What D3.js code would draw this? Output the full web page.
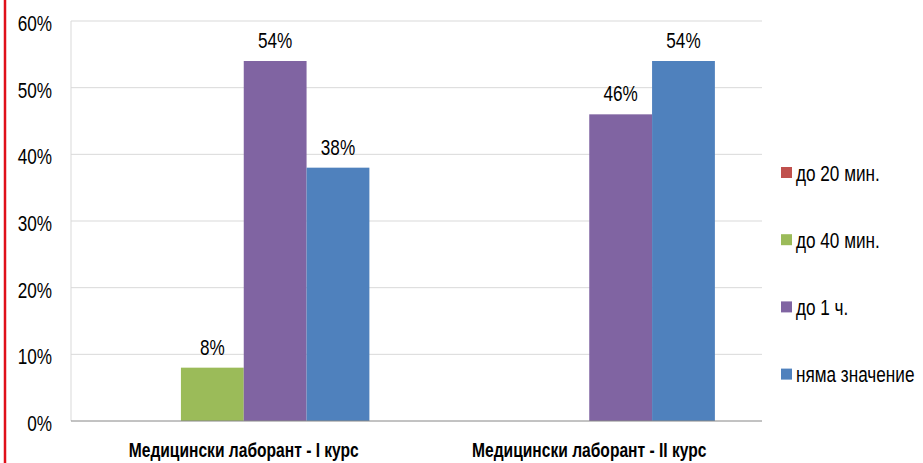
<!DOCTYPE html>
<html>
<head>
<meta charset="utf-8">
<script src="https://cdn.jsdelivr.net/npm/d3@7"></script>
<style>
  body { margin: 0; background: #fff; }
  svg { display: block; }
  text { font-family: "Liberation Sans Narrow", "Arial Narrow", "Liberation Sans", Arial, sans-serif; fill: #000; }
</style>
</head>
<body>
<div id="chart"></div>
<script>
// chart data
var categories = ["Медицински лаборант - I курс", "Медицински лаборант - II курс"];
var seriesNames = ["до 20 мин.", "до 40 мин.", "до 1 ч.", "няма значение"];
var seriesColors = ["#C0504D", "#9BBB59", "#8064A2", "#4F81BD"];
// values[series][category], in percent
var values = [
    [0, 0],
    [8, 0],
    [54, 46],
    [38, 54]
];
var yTicks = [0, 10, 20, 30, 40, 50, 60];

var width = 923,
    height = 463,
    margin = {top: 21, right: 161, bottom: 42, left: 71},
    narrow = 0.78; // squeeze text horizontally, no narrow font installed

var svg = d3.select("#chart").append("svg")
    .attr("width", width)
    .attr("height", height);

function place(x, y) {
    return "translate(" + x + "," + y + ") scale(" + narrow + ",1)";
}

// red frame line on the left edge
svg.append("line")
    .attr("x1", 5).attr("x2", 5)
    .attr("y1", 0).attr("y2", height)
    .attr("stroke", "#e0101a")
    .attr("stroke-width", 2.5);

var x0 = d3.scaleBand()
    .domain(categories)
    .range([margin.left, width - margin.right]);

var x1 = d3.scaleBand()
    .domain(d3.range(seriesNames.length))
    .range([0, x0.bandwidth()])
    .paddingOuter(0.75)
    .paddingInner(0);

var y = d3.scaleLinear()
    .domain([0, 60])
    .range([height - margin.bottom, margin.top]);

// gridlines
svg.append("g")
    .selectAll("line")
    .data(yTicks.filter(function (d) { return d > 0; }))
    .enter().append("line")
    .attr("x1", margin.left)
    .attr("x2", width - margin.right)
    .attr("y1", function (d) { return y(d); })
    .attr("y2", function (d) { return y(d); })
    .attr("stroke", "#d9d9d9");

// left axis line
svg.append("line")
    .attr("x1", margin.left).attr("x2", margin.left)
    .attr("y1", y(60)).attr("y2", y(0))
    .attr("stroke", "#d9d9d9");

// y tick labels
svg.append("g")
    .selectAll("text")
    .data(yTicks)
    .enter().append("text")
    .attr("transform", function (d) { return place(52, y(d)); })
    .attr("dy", "0.45em")
    .attr("text-anchor", "end")
    .style("font-size", "22px")
    .text(function (d) { return d + "%"; });

// bars
var groups = svg.append("g")
    .selectAll("g")
    .data(categories)
    .enter().append("g")
    .attr("transform", function (d) { return "translate(" + x0(d) + ",0)"; });

groups.selectAll("rect")
    .data(function (d, ci) {
        return seriesNames.map(function (s, si) { return {si: si, v: values[si][ci]}; });
    })
    .enter().append("rect")
    .attr("x", function (d) { return x1(d.si); })
    .attr("width", x1.bandwidth())
    .attr("y", function (d) { return y(d.v); })
    .attr("height", function (d) { return y(0) - y(d.v); })
    .attr("fill", function (d) { return seriesColors[d.si]; });

// value labels
groups.selectAll("text")
    .data(function (d, ci) {
        return seriesNames.map(function (s, si) { return {si: si, v: values[si][ci]}; })
            .filter(function (d) { return d.v > 0; });
    })
    .enter().append("text")
    .attr("transform", function (d) { return place(x1(d.si) + x1.bandwidth() / 2, y(d.v) - 13); })
    .attr("text-anchor", "middle")
    .style("font-size", "22px")
    .text(function (d) { return d.v + "%"; });

// bottom axis line
svg.append("line")
    .attr("x1", margin.left).attr("x2", width - margin.right)
    .attr("y1", y(0)).attr("y2", y(0))
    .attr("stroke", "#868686");

// category labels
svg.append("g")
    .selectAll("text")
    .data(categories)
    .enter().append("text")
    .attr("transform", function (d) { return place(x0(d) + x0.bandwidth() / 2, 457); })
    .attr("text-anchor", "middle")
    .style("font-size", "20px")
    .style("font-weight", "bold")
    .text(function (d) { return d; });

// legend
var legend = svg.append("g")
    .selectAll("g")
    .data(seriesNames)
    .enter().append("g")
    .attr("transform", function (d, i) { return "translate(781," + (172 + i * 67.2) + ")"; });

legend.append("rect")
    .attr("x", 0).attr("y", -5)
    .attr("width", 11).attr("height", 11)
    .attr("fill", function (d, i) { return seriesColors[i]; });

legend.append("text")
    .attr("transform", place(15, 0))
    .attr("dy", "0.4em")
    .style("font-size", "22px")
    .text(function (d) { return d; });
</script>
</body>
</html>
